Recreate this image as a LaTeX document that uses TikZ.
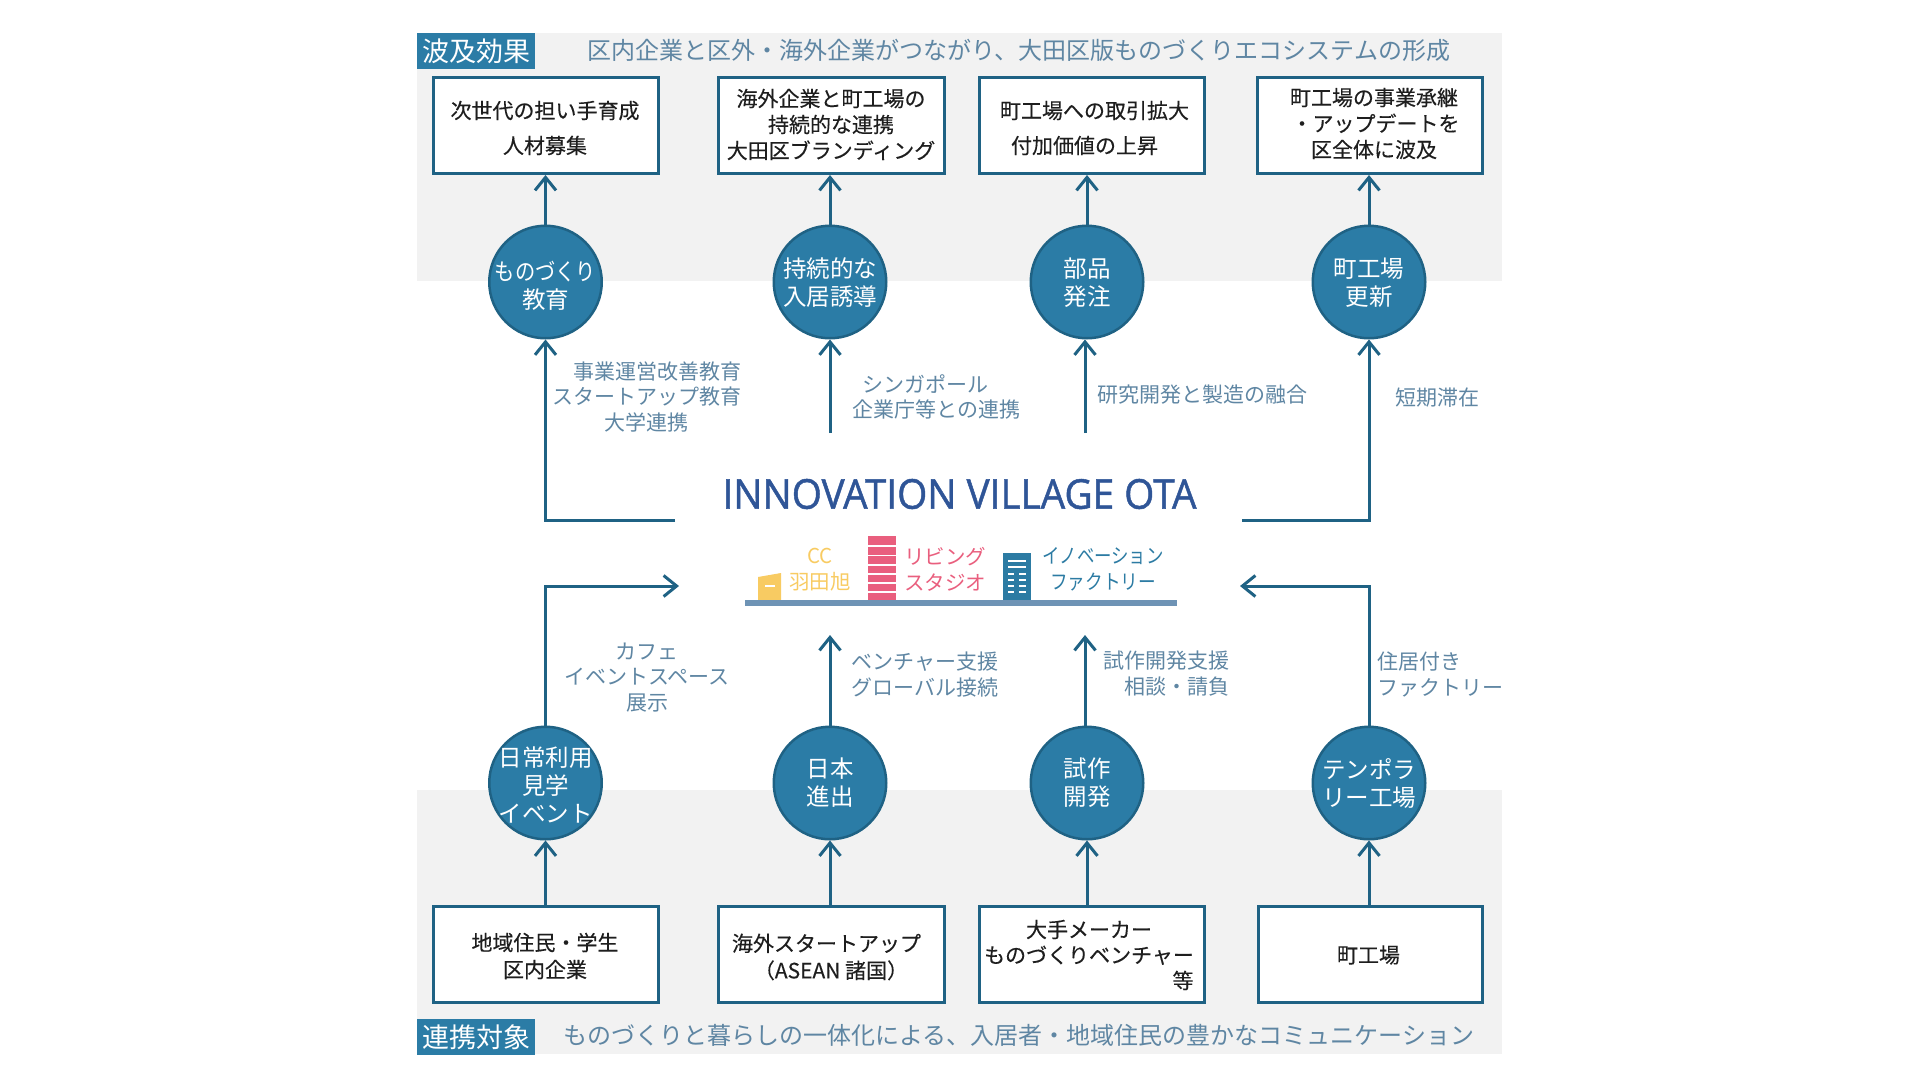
\documentclass[tikz,border=0pt]{standalone}
\usepackage{fontspec}
\usepackage{graphicx}
\usetikzlibrary{arrows.meta}
\setmainfont{Noto Sans CJK JP}
\newfontfamily\boxfont[FakeBold=0.25]{Noto Sans CJK JP}
\newfontfamily\latinfont[FakeBold=1.2]{Open Sans}
\definecolor{teal}{HTML}{2B7CA6}
\definecolor{tealdark}{HTML}{1F6284}
\definecolor{band}{HTML}{F2F2F2}
\definecolor{softtext}{HTML}{5F86A3}
\definecolor{inktext}{HTML}{1E1E1E}
\definecolor{navy}{HTML}{2F5597}
\definecolor{ccyellow}{HTML}{F8CB62}
\definecolor{livpink}{HTML}{E95F7E}
\definecolor{facblue}{HTML}{2C7BA3}
\definecolor{barblue}{HTML}{6E93B5}
\tikzset{
  bandbox/.style={fill=band,draw=none},
  tagbox/.style={fill=teal,text=white,minimum width=118pt,minimum height=36pt,inner sep=0pt,font=\fontsize{27}{30}\selectfont},
  headline/.style={text=softtext,inner sep=0pt,font=\fontsize{24}{28}\selectfont},
  whitebox/.style={draw=tealdark,line width=3pt,fill=white,inner sep=0pt},
  boxtext/.style={text=inktext,inner sep=0pt,align=center},
  hub/.style={circle,fill=teal,draw=tealdark,line width=2.5pt,minimum size=112.5pt,inner sep=0pt},
  hubtext/.style={text=white,inner sep=0pt,align=center,font=\fontsize{23.5}{28}\selectfont},
  note/.style={text=softtext,inner sep=0pt,align=center,font=\fontsize{21}{25.5}\selectfont},
  flow/.style={draw=tealdark,line width=3pt,-{Straight Barb[length=13pt,width=21pt,line width=3pt]}},
  bldgtext/.style={inner sep=0pt,align=center,font=\fontsize{20.5}{26}\selectfont},
}
\newcommand{\boxat}[5]{\node[whitebox,minimum width=#4,minimum height=#5,anchor=north west] (#1) at (#2,#3) {};}
\begin{document}
\begin{tikzpicture}[x=1pt,y=-1pt]
\useasboundingbox (0,0) rectangle (1920,1080);
% bands
\fill[bandbox] (417,33) rectangle (1502,281);
\fill[bandbox] (417,790) rectangle (1502,1054);
% tags and headlines
\node[tagbox,anchor=north west] (tagTop) at (417,33) {波及効果};
\node[tagbox,anchor=north west] (tagBot) at (417,1019) {連携対象};
\node[headline] (headTop) at (1019,50) {区内企業と区外・海外企業がつながり、大田区版ものづくりエコシステムの形成};
\node[headline] (headBot) at (1019,1035) {ものづくりと暮らしの一体化による、入居者・地域住民の豊かなコミュニケーション};
% top boxes
\boxat{bt1}{432}{76}{225pt}{96pt}
\boxat{bt2}{717}{76}{226pt}{96pt}
\boxat{bt3}{978}{76}{225pt}{96pt}
\boxat{bt4}{1256}{76}{225pt}{96pt}
\node[boxtext,font=\boxfont\fontsize{21}{35}\selectfont] (tt1) at (545,128) {次世代の担い手育成\\人材募集};
\node[boxtext,font=\boxfont\fontsize{21}{26}\selectfont] (tt2) at (831,124.5) {海外企業と町工場の\\持続的な連携\\大田区ブランディング};
\node[boxtext,font=\boxfont\fontsize{21}{35}\selectfont] (tt3) at (1094.5,128) {町工場への取引拡大\\\hspace*{0pt}付加価値の上昇\hspace*{20pt}};
\node[boxtext,font=\boxfont\fontsize{21}{26}\selectfont] (tt4) at (1374,123.5) {町工場の事業承継\\\hspace*{3pt}・アップデートを\\区全体に波及};
% bottom boxes
\boxat{bb1}{432}{905}{225pt}{96pt}
\boxat{bb2}{717}{905}{226pt}{96pt}
\boxat{bb3}{978}{905}{225pt}{96pt}
\boxat{bb4}{1257}{905}{224pt}{96pt}
\node[boxtext,font=\boxfont\fontsize{21}{27}\selectfont] (st1) at (545,956) {地域住民・学生\\区内企業};
\node[boxtext,font=\boxfont\fontsize{21}{27}\selectfont] (st2) at (826.5,957) {海外スタートアップ\\\hspace*{9pt}（ASEAN 諸国）};
\node[boxtext,font=\boxfont\fontsize{21}{25.5}\selectfont] (st3) at (1089,955) {大手メーカー\\ものづくりベンチャー\\\hspace*{188pt}等};
\node[boxtext,font=\boxfont\fontsize{21}{27}\selectfont] (st4) at (1368.5,955) {町工場};
% hubs
\node[hub,label={[hubtext,name=h1t,yshift=-3.5pt]center:{\scalebox{.86}[1]{ものづくり}\\教育}}] (h1) at (545.5,282) {};
\node[hub,label={[hubtext,name=h2t,yshift=-1pt]center:{持続的な\\入居誘導}}] (h2) at (830,282) {};
\node[hub,label={[hubtext,name=h3t,yshift=-1pt]center:{部品\\発注}}] (h3) at (1087,282) {};
\node[hub,label={[hubtext,name=h4t,yshift=-1pt]center:{町工場\\更新}}] (h4) at (1369,282) {};
\node[hub,label={[hubtext,name=h5t,yshift=-2pt]center:{日常利用\\見学\\イベント}}] (h5) at (545.5,783) {};
\node[hub,label={[hubtext,name=h6t]center:{日本\\進出}}] (h6) at (830,783) {};
\node[hub,label={[hubtext,name=h7t]center:{試作\\開発}}] (h7) at (1087,783) {};
\node[hub,label={[hubtext,name=h8t]center:{テンポラ\\リー工場}}] (h8) at (1369,783) {};
% free ends
\coordinate (tlEnd) at (675,520);
\coordinate (trEnd) at (1242,520);
\coordinate (lmA) at (830,433);
\coordinate (lmB) at (1085,433);
\coordinate (llEnd) at (679,586);
\coordinate (lrEnd) at (1240,586);
\coordinate (umA) at (830,635);
\coordinate (umB) at (1085,635);
% connectors, upper
\draw[flow] (h1) -- (h1|-bt1.south);
\draw[flow] (h2) -- (h2|-bt2.south);
\draw[flow] (h3) -- (h3|-bt3.south);
\draw[flow] (h4) -- (h4|-bt4.south);
\draw[flow] (tlEnd) -| (h1.south);
\draw[flow] (trEnd) -| (h4.south);
\draw[flow] (lmA) -- (lmA|-h2.south);
\draw[flow] (lmB) -- (lmB|-h3.south);
% connectors, lower
\draw[flow] (h5|-bb1.north) -- (h5.south);
\draw[flow] (h6|-bb2.north) -- (h6.south);
\draw[flow] (h7|-bb3.north) -- (h7.south);
\draw[flow] (h8|-bb4.north) -- (h8.south);
\draw[flow] (h5.north) |- (llEnd);
\draw[flow] (h8.north) |- (lrEnd);
\draw[flow] (umA|-h6.north) -- (umA);
\draw[flow] (umB|-h7.north) -- (umB);
% notes
\node[note] (n1) at (646.5,397) {\hspace*{22pt}事業運営改善教育\\スタートアップ教育\\大学連携\hspace*{0pt}};
\node[note] (n2) at (936.5,397) {シンガポール\hspace*{23pt}\\企業庁等との連携};
\node[note] (n3) at (1202,395) {研究開発と製造の融合};
\node[note] (n4) at (1437,398) {短期滞在};
\node[note] (n5) at (647,677.5) {カフェ\\イベントスペース\\展示};
\node[note] (n6) at (925,674.5) {ベンチャー支援\\グローバル接続};
\node[note] (n7) at (1166,673.5) {試作開発支援\\\hspace*{22pt}相談・請負};
\node[note,align=left] (n8) at (1440,674.5) {住居付き\\ファクトリー};
% title
\node[inner sep=0pt,text=navy,font=\latinfont\fontsize{41}{46}\selectfont] (title) at (959.5,494) {\scalebox{.945}[1]{INNOVATION VILLAGE OTA}};
% buildings
\fill[ccyellow] (758,577) -- (781,573) -- (781,600) -- (758,600) -- cycle;
\draw[white,line width=2pt] (765,586) -- (775,586);
\fill[livpink] (868,536) rectangle (896,600);
\foreach \yy in {546,555.5,565,574,583,592}{\draw[white,line width=1.3pt] (868,\yy) -- (896,\yy);}
\fill[facblue] (1003,553) rectangle (1031,600);
\foreach \yy in {561,567}{\draw[white,line width=1.5pt] (1008,\yy) -- (1026,\yy);}
\foreach \yy in {574,580,586,592}{\draw[white,line width=1.5pt] (1008,\yy) -- (1014,\yy) (1019,\yy) -- (1026,\yy);}
\fill[barblue] (745,600) rectangle (1177,606);
% building labels
\node[bldgtext,text=ccyellow] (lbCC) at (820,569.5) {CC\\羽田旭};
\node[bldgtext,text=livpink] (lbLiv) at (945,569.5) {リビング\\スタジオ};
\node[bldgtext,text=facblue] (lbFac) at (1103,569.5) {\scalebox{.85}[1]{イノベーション}\\\scalebox{.86}[1]{ファクトリー}};
\end{tikzpicture}
\end{document}
